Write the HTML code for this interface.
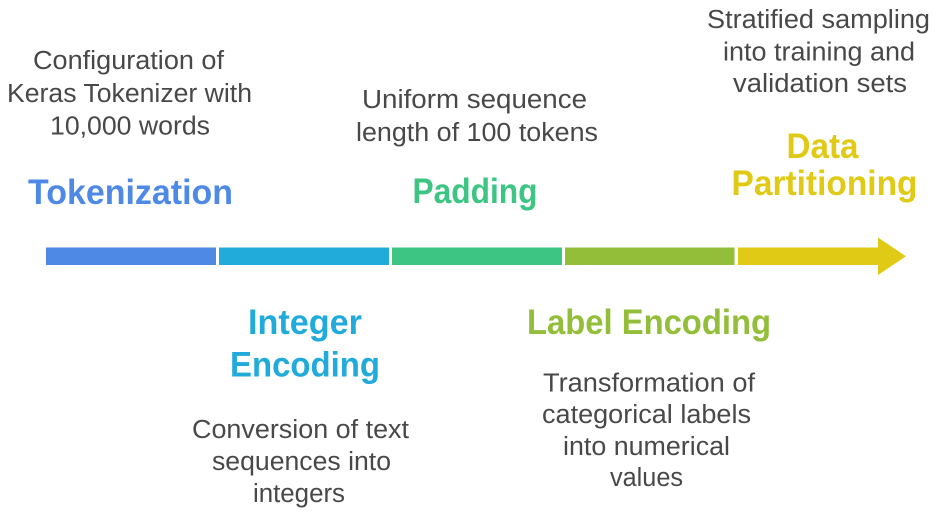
<!DOCTYPE html>
<html>
<head>
<meta charset="utf-8">
<style>
  html, body { margin: 0; padding: 0; background: #ffffff; }
  body { width: 933px; height: 525px; overflow: hidden; }
  svg { display: block; }
  .d { font-family: "Liberation Sans", Arial, sans-serif; font-size: 25.5px; fill: #484848; }
  .h { font-family: "Liberation Sans", Arial, sans-serif; font-size: 35px; font-weight: bold; }
</style>
</head>
<body>
<svg width="933" height="525" viewBox="0 0 933 525" xmlns="http://www.w3.org/2000/svg">
  <rect x="0" y="0" width="933" height="525" fill="#ffffff"/>

  <!-- Timeline bar -->
  <rect x="46" y="247.5" width="170" height="17.5" fill="#4e89e5"/>
  <rect x="219" y="247.5" width="170" height="17.5" fill="#21abda"/>
  <rect x="392" y="247.5" width="170" height="17.5" fill="#3dc583"/>
  <rect x="565" y="247.5" width="169.5" height="17.5" fill="#93be3a"/>
  <polygon points="738,247.5 878,247.5 878,237.5 906,256.3 878,275 878,265 738,265" fill="#e0ca16"/>

  <!-- Tokenization (top-left) -->
  <text class="d" x="128.5" y="69" text-anchor="middle" textLength="191" lengthAdjust="spacingAndGlyphs">Configuration of</text>
  <text class="d" x="129.5" y="102" text-anchor="middle" textLength="245" lengthAdjust="spacingAndGlyphs">Keras Tokenizer with</text>
  <text class="d" x="130" y="134.5" text-anchor="middle" textLength="160" lengthAdjust="spacingAndGlyphs">10,000 words</text>
  <text class="h" x="130.5" y="204" text-anchor="middle" fill="#4e89e5" textLength="205" lengthAdjust="spacingAndGlyphs">Tokenization</text>

  <!-- Padding (top-middle) -->
  <text class="d" x="474.5" y="108" text-anchor="middle" textLength="225" lengthAdjust="spacingAndGlyphs">Uniform sequence</text>
  <text class="d" x="477" y="141" text-anchor="middle" textLength="242" lengthAdjust="spacingAndGlyphs">length of 100 tokens</text>
  <text class="h" x="475" y="203" text-anchor="middle" fill="#3dc583" textLength="125" lengthAdjust="spacingAndGlyphs">Padding</text>

  <!-- Data Partitioning (top-right) -->
  <text class="d" x="818.5" y="28" text-anchor="middle" textLength="223" lengthAdjust="spacingAndGlyphs">Stratified sampling</text>
  <text class="d" x="819" y="60.5" text-anchor="middle" textLength="192" lengthAdjust="spacingAndGlyphs">into training and</text>
  <text class="d" x="820" y="92" text-anchor="middle" textLength="174" lengthAdjust="spacingAndGlyphs">validation sets</text>
  <text class="h" x="822.5" y="158" text-anchor="middle" fill="#e0ca16" textLength="72" lengthAdjust="spacingAndGlyphs">Data</text>
  <text class="h" x="824.5" y="195" text-anchor="middle" fill="#e0ca16" textLength="186" lengthAdjust="spacingAndGlyphs">Partitioning</text>

  <!-- Integer Encoding (bottom-left) -->
  <text class="h" x="305" y="334" text-anchor="middle" fill="#21abda" textLength="114" lengthAdjust="spacingAndGlyphs">Integer</text>
  <text class="h" x="305" y="376.5" text-anchor="middle" fill="#21abda" textLength="150" lengthAdjust="spacingAndGlyphs">Encoding</text>
  <text class="d" x="300.5" y="438" text-anchor="middle" textLength="217" lengthAdjust="spacingAndGlyphs">Conversion of text</text>
  <text class="d" x="301.5" y="470" text-anchor="middle" textLength="179" lengthAdjust="spacingAndGlyphs">sequences into</text>
  <text class="d" x="299" y="502" text-anchor="middle" textLength="92" lengthAdjust="spacingAndGlyphs">integers</text>

  <!-- Label Encoding (bottom-right) -->
  <text class="h" x="649" y="334" text-anchor="middle" fill="#93be3a" textLength="244" lengthAdjust="spacingAndGlyphs">Label Encoding</text>
  <text class="d" x="649" y="391.5" text-anchor="middle" textLength="212" lengthAdjust="spacingAndGlyphs">Transformation of</text>
  <text class="d" x="646.5" y="423" text-anchor="middle" textLength="209" lengthAdjust="spacingAndGlyphs">categorical labels</text>
  <text class="d" x="646.5" y="455" text-anchor="middle" textLength="167" lengthAdjust="spacingAndGlyphs">into numerical</text>
  <text class="d" x="646.5" y="486" text-anchor="middle" textLength="73" lengthAdjust="spacingAndGlyphs">values</text>
</svg>
</body>
</html>
